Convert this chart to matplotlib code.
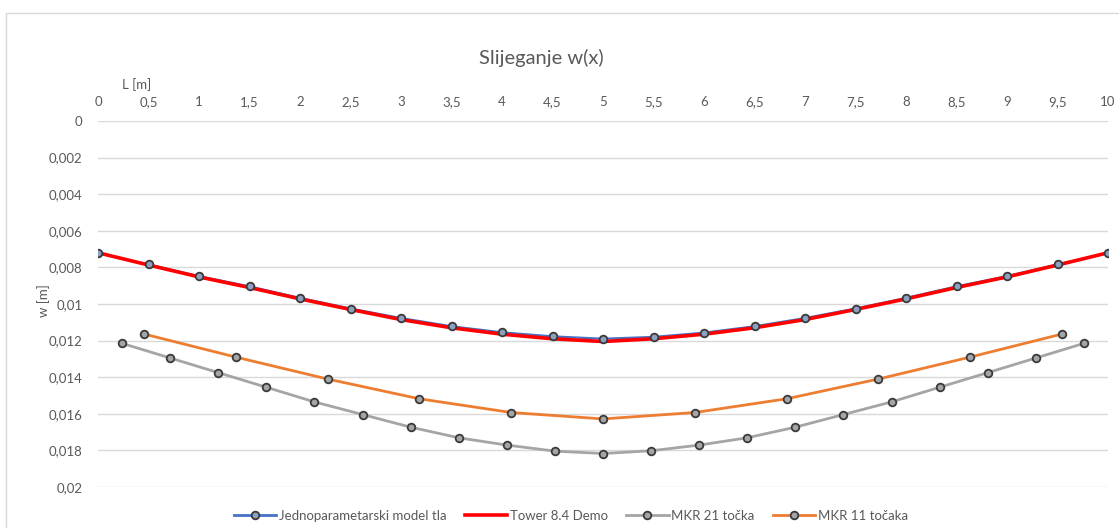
import matplotlib.pyplot as plt
from matplotlib.lines import Line2D
from matplotlib.patches import Rectangle
from matplotlib.ticker import FuncFormatter, MultipleLocator
import numpy as np

plt.rcParams['font.family'] = ['Lato', 'DejaVu Sans']

# Jednoparametarski model tla (x = 0 .. 10, korak 0.5)
x_model = [0, 0.5, 1, 1.5, 2, 2.5, 3, 3.5, 4, 4.5, 5,
           5.5, 6, 6.5, 7, 7.5, 8, 8.5, 9, 9.5, 10]
w_model = [0.0072, 0.00784, 0.00848, 0.00904, 0.00967, 0.01025, 0.01077, 0.01122, 0.01155, 0.01177, 0.01190,
           0.01180, 0.01157, 0.01122, 0.01077, 0.01025, 0.00967, 0.00904, 0.00848, 0.00784, 0.00722]

# Tower 8.4 Demo
x_tower = x_model
w_tower = [0.0072, 0.00787, 0.00852, 0.00910, 0.00972, 0.01030, 0.01085, 0.01130, 0.01165, 0.01190, 0.01205,
           0.01190, 0.01165, 0.01130, 0.01085, 0.01030, 0.00972, 0.00910, 0.00852, 0.00787, 0.0072]

# MKR 21 tocka
x_mkr21 = [0.238, 0.714, 1.190, 1.667, 2.143, 2.619, 3.095, 3.571, 4.048, 4.524, 5.0,
           5.476, 5.952, 6.429, 6.905, 7.381, 7.857, 8.333, 8.810, 9.286, 9.762]
w_mkr21 = [0.01215, 0.01295, 0.01375, 0.01455, 0.01535, 0.01604, 0.01673, 0.01731, 0.01771, 0.01804, 0.01817,
           0.01802, 0.01771, 0.01731, 0.01673, 0.01604, 0.01535, 0.01455, 0.01375, 0.01295, 0.01215]

# MKR 11 tocaka
x_mkr11 = [0.455, 1.364, 2.273, 3.182, 4.091, 5.0, 5.909, 6.818, 7.727, 8.636, 9.545]
w_mkr11 = [0.01164, 0.0129, 0.0141, 0.01518, 0.01593, 0.01628, 0.01593, 0.01518, 0.0141, 0.0129, 0.01164]

c_blue = '#4472c4'
c_red = '#ff0000'
c_gray = '#a5a5a5'
c_orange = '#ed7d31'
c_edge = '#3a3a3a'
txt = '#595959'

fig = plt.figure(figsize=(11.19, 5.28), dpi=100)
fig.patches.append(Rectangle((6 / 1119, -0.1), 1.2, 1 - 13 / 528 + 0.1, transform=fig.transFigure,
                             fill=False, edgecolor='#d9d9d9', linewidth=1))
ax = fig.add_axes([98 / 1119, 1 - 487 / 528, 1010 / 1119, 366 / 528])

mk = dict(marker='o', markersize=5.5, markeredgecolor=c_edge, markeredgewidth=1.3)

ax.plot(x_model, w_model, color=c_blue, lw=1.6, zorder=2)
ax.plot(x_tower, w_tower, color=c_red, lw=2.6, zorder=3)
ax.plot(x_model, w_model, ls='none', markerfacecolor='#8e9fbf', zorder=4, **mk)
ax.plot(x_mkr21, w_mkr21, color=c_gray, lw=2.0, markerfacecolor=c_gray, zorder=3, **mk)
ax.plot(x_mkr11, w_mkr11, color=c_orange, lw=2.0, markerfacecolor=c_gray, zorder=3, **mk)

ax.set_xlim(0, 10)
ax.set_ylim(0.02, 0)
ax.xaxis.set_major_locator(MultipleLocator(0.5))
ax.yaxis.set_major_locator(MultipleLocator(0.002))
comma = FuncFormatter(lambda v, p: ('%g' % round(v, 6)).replace('.', ','))
ax.xaxis.set_major_formatter(comma)
ax.yaxis.set_major_formatter(comma)
ax.xaxis.tick_top()
ax.tick_params(axis='both', length=0, labelsize=9.5, labelcolor=txt)
ax.tick_params(axis='x', pad=9)
ax.tick_params(axis='y', pad=11)
ax.grid(axis='y', color='#d9d9d9', lw=1)
ax.set_axisbelow(True)
for s in ax.spines.values():
    s.set_visible(False)

fig.text(0.484, 0.89, 'Slijeganje w(x)', ha='center', va='center', fontsize=14.5, color=txt)
fig.text(137 / 1119, 1 - 85 / 528, 'L [m]', ha='center', va='center', fontsize=9.5, color=txt)
fig.text(44 / 1119, 1 - 301 / 528, 'w [m]', ha='center', va='center', fontsize=9.5, color=txt, rotation=90)

handles = [
    Line2D([], [], color=c_blue, lw=2, markerfacecolor='#8e9fbf', **mk),
    Line2D([], [], color=c_red, lw=2.6),
    Line2D([], [], color=c_gray, lw=2, markerfacecolor=c_gray, **mk),
    Line2D([], [], color=c_orange, lw=2, markerfacecolor=c_gray, **mk),
]
labels = ['Jednoparametarski model tla', 'Tower 8.4 Demo', 'MKR 21 točka', 'MKR 11 točaka']
fig.legend(handles, labels, loc='center', bbox_to_anchor=(571 / 1119, 1 - 516 / 528), ncol=4,
           frameon=False, fontsize=9.5, labelcolor=txt, handlelength=3.2, handletextpad=0.2,
           columnspacing=1.4)

fig.savefig('out.png', dpi=100)
